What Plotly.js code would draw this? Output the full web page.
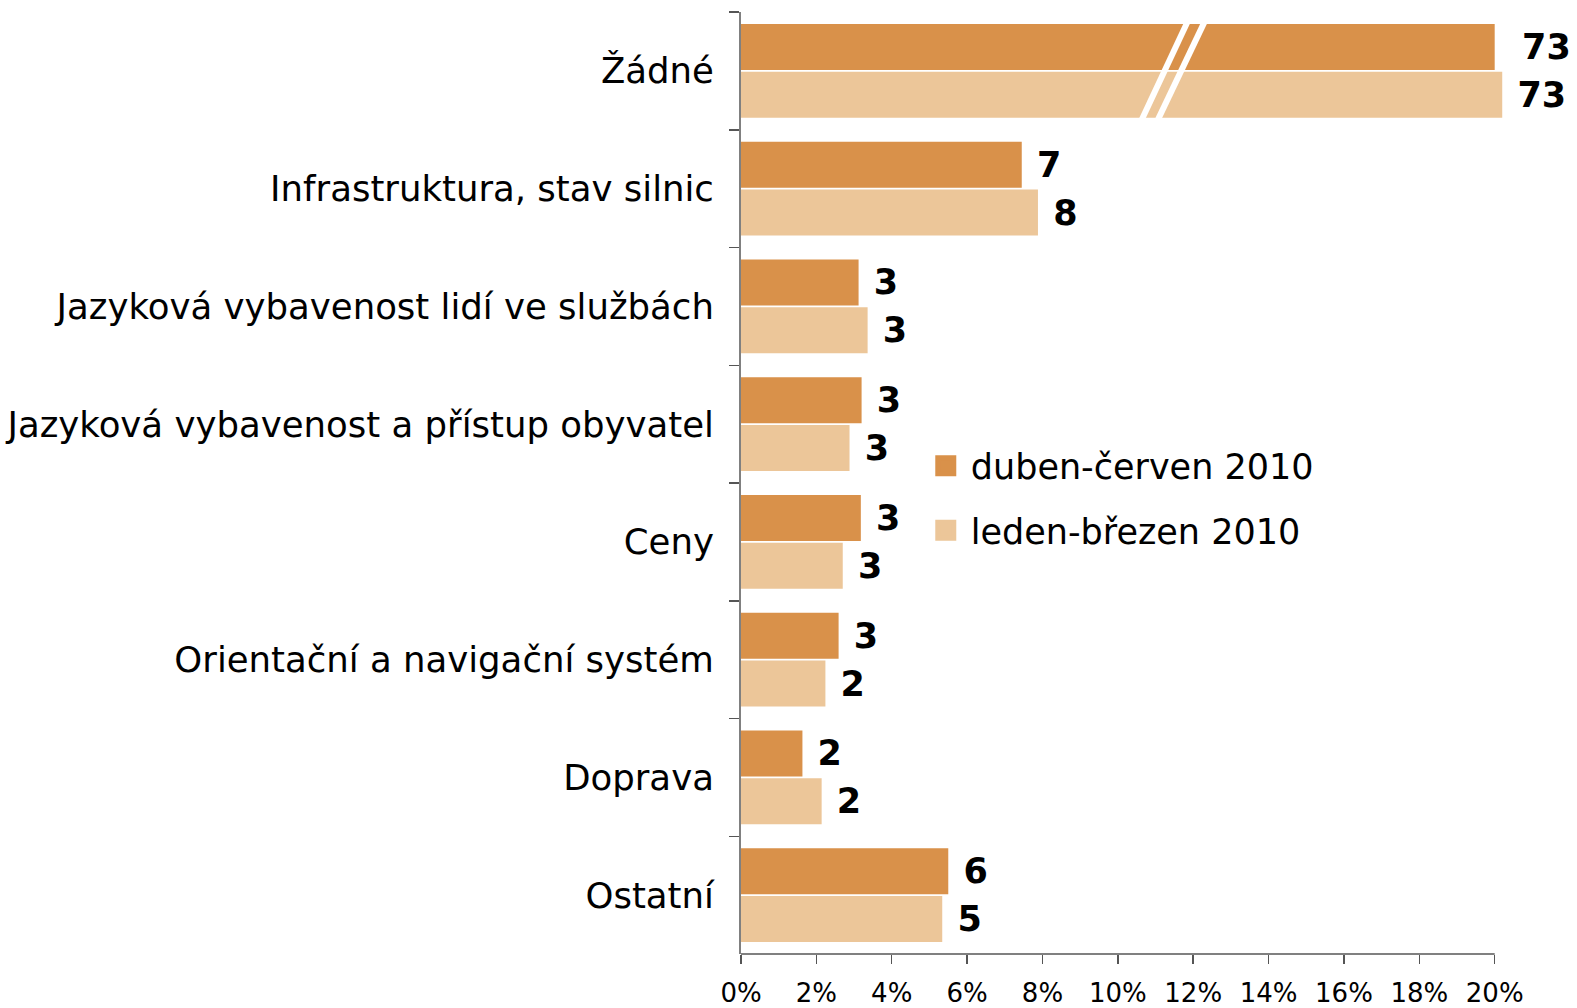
<!DOCTYPE html>
<html>
<head>
<meta charset="utf-8">
<script src="https://cdn.plot.ly/plotly-3.0.1.min.js"></script>
<style>html,body{margin:0;padding:0;background:#fff;}#chart{width:1577px;height:1008px;}</style>
</head>
<body>
<div id="chart"></div>
<script>
// Categories (top to bottom)
const categories = [
  "Žádné",
  "Infrastruktura, stav silnic",
  "Jazyková vybavenost lidí ve službách",
  "Jazyková vybavenost a přístup obyvatel",
  "Ceny",
  "Orientační a navigační systém",
  "Doprava",
  "Ostatní"
];
const seriesNames = ["duben-červen 2010", "leden-březen 2010"];
// Drawn bar lengths (%) — "Žádné" is truncated at the axis end (broken bar)
const barAprJun = [20.0, 7.45, 3.12, 3.2, 3.18, 2.59, 1.63, 5.5];
const barJanMar = [20.2, 7.88, 3.36, 2.88, 2.70, 2.24, 2.14, 5.34];
// Value labels as printed
const labelAprJun = [73, 7, 3, 3, 3, 3, 2, 6];
const labelJanMar = [73, 8, 3, 3, 3, 2, 2, 5];
const xTickVals = [0, 2, 4, 6, 8, 10, 12, 14, 16, 18, 20];
const xTickText = ["0%", "2%", "4%", "6%", "8%", "10%", "12%", "14%", "16%", "18%", "20%"];
const colors = ["#D9914A", "#ECC699"];

const FONT = "DejaVu Sans, Verdana, sans-serif";
const NB = "\u00a0";
const X_MAX = 20.3;   // a little room for the truncated bar overhang

const barTrace = (xs, labels, name, color, firstGap) => ({
  type: "bar",
  orientation: "h",
  x: xs,
  y: categories,
  name: name,
  marker: {color: color},
  text: labels.map((v, i) => (i === 0 ? firstGap : NB) + v),
  textposition: "outside",
  cliponaxis: false,
  constraintext: "none",
  textfont: {family: FONT, size: 35, color: "#000", weight: "bold"},
  showlegend: false,
  hoverinfo: "x+y"
});

const legendTrace = (name, color, grp) => ({
  type: "scatter",
  mode: "markers",
  x: [-100], y: [categories[0]],
  name: name,
  legendgroup: grp,
  marker: {symbol: "square", size: 16, color: color, line: {color: color, width: 5}},
  showlegend: true,
  hoverinfo: "skip"
});

const data = [
  barTrace(barAprJun, labelAprJun, seriesNames[0], colors[0], NB + NB),
  barTrace(barJanMar, labelJanMar, seriesNames[1], colors[1], NB),
  legendTrace(seriesNames[0], colors[0], "a"),
  legendTrace(seriesNames[1], colors[1], "b")
];

// Axis-break marks on the truncated "Žádné" bars
const breakLines = [[11.84, 10.64], [12.29, 11.07]].map(([xt, xb]) => ({
  type: "line", xref: "x", yref: "y",
  x0: xt, y0: -0.41, x1: xb, y1: 0.41,
  line: {color: "#ffffff", width: 6}
}));

// x-axis baseline: from just left of 0% to 20%
const baseLine = {
  type: "line", xref: "x", yref: "paper",
  x0: -0.5, x1: 20, y0: 0, y1: 0,
  line: {color: "#808080", width: 2}
};

const plotLeft = 741, x20px = 1494.5;
const plotW = (x20px - plotLeft) * X_MAX / 20;

const layout = {
  width: 1577, height: 1008,
  margin: {l: plotLeft, r: 1577 - plotLeft - plotW, t: 12, b: 54, pad: 0},
  paper_bgcolor: "#fff", plot_bgcolor: "#fff",
  barmode: "group",
  bargap: 0.187,
  bargroupgap: 0.04,
  font: {family: FONT, color: "#000"},
  xaxis: {
    range: [0, X_MAX],
    tickvals: xTickVals, ticktext: xTickText,
    ticks: "outside", ticklen: 9, tickwidth: 1.5, tickcolor: "#555",
    showline: false,
    showgrid: false, zeroline: false,
    tickfont: {family: FONT, size: 26, color: "#000"},
    ticklabelstandoff: 7,
    fixedrange: true
  },
  yaxis: {
    type: "category",
    autorange: "reversed",
    tickson: "boundaries",
    ticks: "outside", ticklen: 10, tickwidth: 1.5, tickcolor: "#555",
    showline: true, linecolor: "#808080", linewidth: 2,
    showgrid: false, zeroline: false,
    tickfont: {family: FONT, size: 35.5, color: "#000"},
    ticklabelstandoff: 18,
    fixedrange: true
  },
  legend: {
    x: 0.235, xanchor: "left",
    y: 0.484, yanchor: "middle",
    font: {family: FONT, size: 35, color: "#000"},
    bgcolor: "rgba(0,0,0,0)",
    traceorder: "grouped",
    tracegroupgap: 16,
    itemwidth: 40,
    itemclick: false, itemdoubleclick: false
  },
  shapes: breakLines.concat([baseLine]),
  showlegend: true
};

Plotly.newPlot("chart", data, layout, {displayModeBar: false, staticPlot: true});
</script>
</body>
</html>
